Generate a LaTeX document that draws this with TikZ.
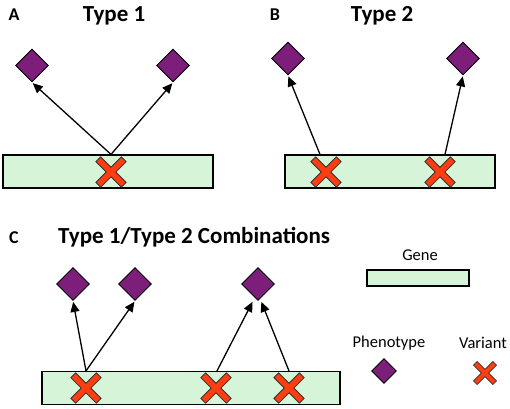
\documentclass[tikz,border=0pt]{standalone}
\usepackage{fontspec}
\setmainfont{Carlito}
\usetikzlibrary{shapes.geometric,arrows.meta}
\definecolor{genefill}{HTML}{D6F5D8}
\definecolor{phenopurple}{HTML}{7E1E7B}
\definecolor{varred}{HTML}{FF3D12}
\tikzset{
  gene/.style={draw=black, fill=genefill, line width=1.2pt, rectangle, inner sep=0pt},
  pheno/.style={draw=black, fill=phenopurple, line width=0.9pt, diamond, aspect=1, inner sep=0pt, minimum width=#1, minimum height=#1},
  pheno/.default=33pt,
  link/.style={line width=1.3pt, -{Triangle[length=10pt,width=9pt]}, shorten >=1pt},
  paneltitle/.style={font=\bfseries\fontsize{23}{25}\selectfont, inner sep=0pt},
  panellabel/.style={font=\bfseries\fontsize{18}{20}\selectfont, inner sep=0pt},
  legendtext/.style={font=\fontsize{16.5}{18}\selectfont, inner sep=0pt},
  xmark/.pic={
    \filldraw[fill=varred, draw=black!80, line width=0.8pt, rotate=45, scale=#1]
      (3.4,3.4) -- (18,3.4) -- (18,-3.4) -- (3.4,-3.4) -- (3.4,-18) -- (-3.4,-18)
      -- (-3.4,-3.4) -- (-18,-3.4) -- (-18,3.4) -- (-3.4,3.4) -- (-3.4,18) -- (3.4,18) -- cycle;
  }
}
\begin{document}
\begin{tikzpicture}[x=1pt, y=-1pt]
\useasboundingbox (0,0) rectangle (510,408);
% Panel A
\node[panellabel] (labA) at (14,15) {A};
\node[paneltitle] (titA) at (114,16) {Type 1};
\node[gene, minimum width=210pt, minimum height=33pt] (gA) at (108,171.5) {};
\node[pheno] (pA1) at (32,65.5) {};
\node[pheno] (pA2) at (173,65.5) {};
\coordinate (vA) at (111,172);
\draw[link] (vA |- gA.north) -- (pA1.south);
\draw[link] (vA |- gA.north) -- (pA2.south);
\pic at (vA) {xmark=1};
% Panel B
\node[panellabel] (labB) at (275,15) {B};
\node[paneltitle] (titB) at (382,16) {Type 2};
\node[gene, minimum width=210pt, minimum height=33pt] (gB) at (390,171.5) {};
\node[pheno] (pB1) at (288,58.5) {};
\node[pheno] (pB2) at (463,58.5) {};
\coordinate (vB1) at (326,172);
\coordinate (vB2) at (440,172);
\draw[link] ([xshift=-6pt]vB1 |- gB.north) -- (pB1.south);
\draw[link] ([xshift=5pt]vB2 |- gB.north) -- (pB2.south);
\pic at (vB1) {xmark=1};
\pic at (vB2) {xmark=1};
% Panel C
\node[panellabel] (labC) at (14,238) {C};
\node[paneltitle, anchor=west] (titC) at (58,237) {Type 1/Type 2 Combinations};
\node[gene, minimum width=298pt, minimum height=33pt] (gC) at (191,388) {};
\node[pheno] (pC1) at (73,284) {};
\node[pheno] (pC2) at (135,284) {};
\node[pheno] (pC3) at (258,284) {};
\coordinate (vC1) at (86,388);
\coordinate (vC2) at (216,388);
\coordinate (vC3) at (289,388);
\draw[link] (vC1 |- gC.north) -- (pC1.south);
\draw[link] (vC1 |- gC.north) -- (pC2.south);
\draw[link] ([xshift=1pt]vC2 |- gC.north) -- ([xshift=-5pt]pC3.south);
\draw[link] (vC3 |- gC.north) -- ([xshift=3pt]pC3.south);
\pic at (vC1) {xmark=1};
\pic at (vC2) {xmark=1};
\pic at (vC3) {xmark=1};
% Legend
\node[legendtext] (lgGene) at (420,255) {Gene};
\node[gene, minimum width=102pt, minimum height=16pt] (lgG) at (418,278) {};
\node[legendtext] (lgPh) at (389,343) {Phenotype};
\node[legendtext] (lgVa) at (483,343) {Variant};
\node[pheno=25pt] (lgP) at (384,371) {};
\coordinate (lgV) at (485,373);
\pic at (lgV) {xmark=0.76};
\end{tikzpicture}
\end{document}
